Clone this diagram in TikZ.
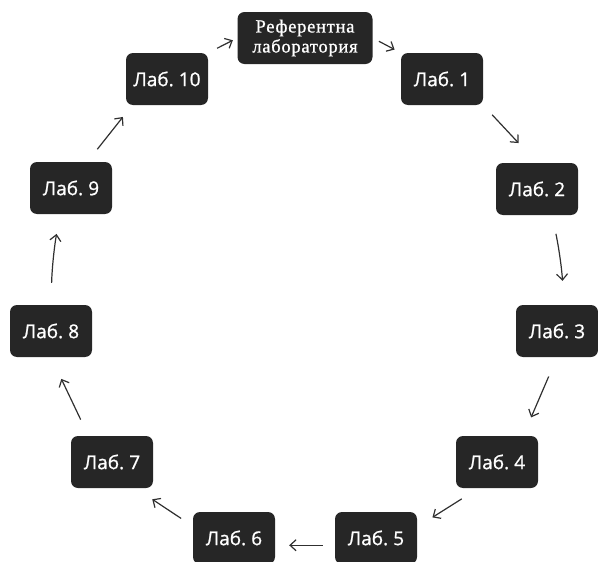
\documentclass[tikz,border=0pt]{standalone}
\usepackage{fontspec}
\setmainfont{Open Sans}[FakeBold=1.2]
\newfontfamily\labsans{Open Sans}[FakeBold=1.0,WordSpace=0.7]
\newfontfamily\refserif{Liberation Serif}[LetterSpace=4,FakeBold=1.0]
\usepackage{tikz}
\usetikzlibrary{arrows.meta}
\definecolor{labgray}{HTML}{262626}
\definecolor{arrgray}{HTML}{303030}

\begin{document}
\begin{tikzpicture}[x=1pt,y=-1pt,->,>={Straight Barb[length=6pt,width=11pt]}]
            \tikzstyle{lab}=[rectangle,rounded corners=7pt,fill=labgray,text=white,minimum width=82pt,minimum height=52pt,inner sep=0pt,font=\labsans\fontsize{19}{21}\selectfont]
            \tikzstyle{flow}=[draw=arrgray,line width=1.2pt]
            \useasboundingbox (0,0) rectangle (598,562);

            \node[lab,minimum width=135pt,minimum height=52pt,align=center,font=\refserif\fontsize{18.5}{20}\selectfont] (L-ref) at (305,38) {Референтна\\лаборатория};
            \node[lab] (L-1) at (442,79) {Лаб. 1};
            \node[lab] (L-2) at (537,189) {Лаб. 2};
            \node[lab] (L-3) at (557,331) {Лаб. 3};
            \node[lab] (L-4) at (497,462) {Лаб. 4};
            \node[lab] (L-5) at (376,538) {Лаб. 5};
            \node[lab] (L-6) at (234,538) {Лаб. 6};
            \node[lab] (L-7) at (112,462) {Лаб. 7};
            \node[lab] (L-8) at (51,331) {Лаб. 8};
            \node[lab] (L-9) at (71,188) {Лаб. 9};
            \node[lab] (L-10) at (167,79) {Лаб. 10};

            \draw[flow,shorten <=10pt,shorten >=5pt] (L-10.north east) -- (L-ref.west);
            \draw[flow,shorten <=7pt,shorten >=7pt] (L-ref.east) -- (L-1.north west);
            \draw[flow,shorten <=13pt,shorten >=27pt] (L-1.south east) -- (L-2.north);
            \draw[flow,shorten <=19pt,shorten >=24pt] (L-2.-60) to[bend left=4] (L-3.75);
            \draw[flow,shorten <=21pt,shorten >=20pt] (L-3.south) -- (L-4.45);
            \draw[flow,shorten <=20pt,shorten >=18pt] (L-4.-125) -- (L-5.15);
            \draw[flow,shorten <=12pt,shorten >=14pt] (L-5.190) -- (L-6.-10);
            \draw[flow,shorten <=14pt,shorten >=20pt] (L-6.164) -- (L-7.-48);
            \draw[flow,shorten <=18pt,shorten >=24pt] (L-7.132) -- (L-8.south);
            \draw[flow,shorten <=22pt,shorten >=20pt] (L-8.north) to[bend left=4] (L-9.-113);
            \draw[flow,shorten <=16pt,shorten >=15pt] (L-9.58) -- (L-10.-143);
        \end{tikzpicture}
\end{document}
